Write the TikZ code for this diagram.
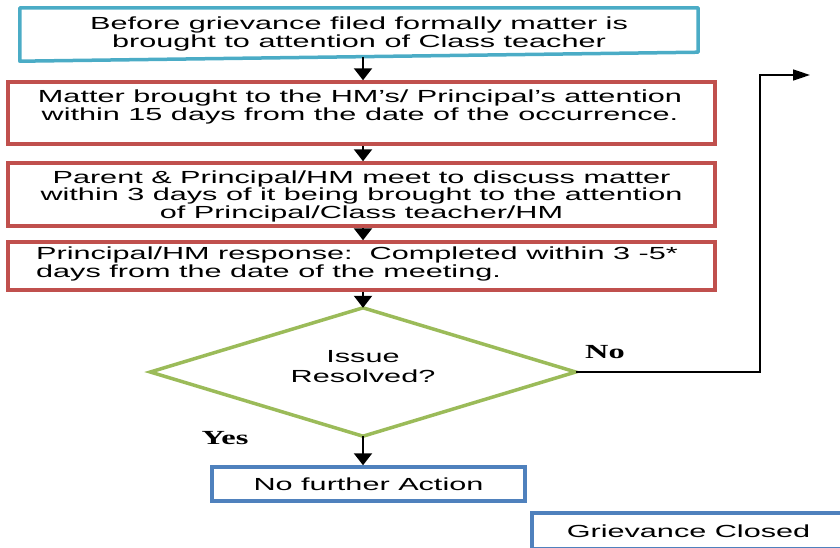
\documentclass[tikz,border=0pt]{standalone}
\usepackage{fontspec}
\newfontfamily\bx[FakeStretch=1.75]{Liberation Sans}
\newfontfamily\lbl{Liberation Serif}
\usetikzlibrary{arrows.meta}
\definecolor{cteal}{HTML}{4BACC6}
\definecolor{cred}{HTML}{C0504D}
\definecolor{cgreen}{HTML}{9BBB59}
\definecolor{cblue}{HTML}{4F81BD}
\newcommand{\widelab}[1]{\scalebox{1.62}[1]{\lbl\bfseries\fontsize{20}{20}\selectfont #1}}
\begin{document}
\begin{tikzpicture}[x=1pt,y=-1pt,
  txt/.style={font=\bx\fontsize{17.5}{17.5}\selectfont, align=center, inner sep=0pt},
  redbox/.style={draw=cred, line width=3.5pt, minimum width=707pt, inner sep=0pt},
  bluebox/.style={txt, draw=cblue, line width=3.5pt, minimum width=313pt},
  lab/.style={inner sep=0pt},
  arr/.style={line width=2.2pt, -{Triangle[length=12pt,width=18pt]}},
  arrb/.style={line width=1.6pt, -{Triangle[length=17pt,width=11pt]}}]
\useasboundingbox (0,0) rectangle (840,547);
\coordinate (ax) at (363,0);
% box 1 (manual-input style)
\node[txt, minimum width=678pt, minimum height=54pt] (b1) at (359,34)
  {Before grievance filed formally matter is\\brought to attention of Class teacher};
\draw[cteal, line width=3.5pt, line join=round]
  ([yshift=-1pt]b1.north west) -- ([yshift=-1pt]b1.north east) -- ([yshift=9pt]b1.south east) -- (b1.south west) -- cycle;
\node[redbox, minimum height=62pt] (b2) at (361.5,113) {};
\node[txt] (t2) at (360,107)
  {Matter brought to the HM’s/ Principal’s attention\\within 15 days from the date of the occurrence.};
\node[redbox, minimum height=63pt] (b3) at (361.5,194.5) {};
\node[txt] (t3) at (361.5,196)
  {Parent \& Principal/HM meet to discuss matter\\within 3 days of it being brought to the attention\\of Principal/Class teacher/HM};
\node[redbox, minimum height=48pt] (b4) at (361.5,266) {};
\node[txt, align=left] (t4) at (357,264)
  {Principal/HM response:\ \ Completed within 3 -5*\\days from the date of the meeting.};
% decision
\node[minimum width=425pt, minimum height=128pt, inner sep=0pt] (dia) at (363,372) {};
\draw[cgreen, line width=3.5pt, line join=miter]
  (dia.north) -- (dia.east) -- (dia.south) -- (dia.west) -- cycle;
\node[txt, font=\bx\fontsize{17.5}{20}\selectfont] (diat) at (363,367) {Issue\\Resolved?};
\node[bluebox, minimum height=34pt] (nfa) at (368.5,484) {No further Action};
\node[bluebox, minimum height=36pt] (gc) at (688.5,531) {Grievance Closed};
\node[lab] (yes) at (225,438) {\widelab{Yes}};
\node[lab] (no) at (605,352) {\widelab{No}};
% connectors
\draw[arr] ([yshift=4pt]b1.south -| ax) -- (b2.north -| ax);
\draw[arr] (b2.south -| ax) -- (b3.north -| ax);
\draw[arr] (b3.south -| ax) -- (b4.north -| ax);
\draw[arr] (b4.south -| ax) -- (dia.north);
\draw[arr] (dia.south) -- (nfa.north -| dia.south);
\coordinate (nc) at (760,75);
\coordinate (ne) at (810,75);
\draw[arrb] (dia.east) -| (nc) -- (ne);
\end{tikzpicture}
\end{document}
